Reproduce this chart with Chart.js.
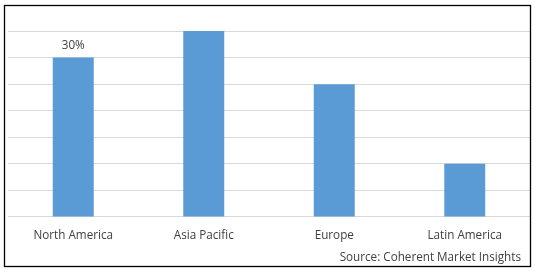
<!DOCTYPE html>
<html>
<head>
<meta charset="utf-8">
<script src="https://cdn.jsdelivr.net/npm/chart.js@4"></script>
<style>
  html, body { margin: 0; padding: 0; background: #fff; }
  #wrap { width: 538px; height: 272px; position: relative; }
</style>
</head>
<body>
<div id="wrap"><canvas id="regionChart"></canvas></div>
<script>
// chart data
var regions = ['North America', 'Asia Pacific', 'Europe', 'Latin America'];
var shares = [30, 35, 25, 10];
var shareLabels = ['30%', '', '', ''];
var sourceText = 'Source: Coherent Market Insights';

var textColor = '#404040';
var fontFamily = '"Open Sans", "DejaVu Sans", sans-serif';
var fontSize = 11.7;

// value labels above the bars + source note + outer frame
var extrasPlugin = {
    id: 'extras',
    afterDatasetsDraw: function (chart) {
        var ctx = chart.ctx;
        var meta = chart.getDatasetMeta(0);
        ctx.save();
        ctx.font = fontSize + 'px ' + fontFamily;
        ctx.fillStyle = textColor;
        ctx.textAlign = 'center';
        ctx.textBaseline = 'middle';
        meta.data.forEach(function (bar, i) {
            if (shareLabels[i]) {
                ctx.fillText(shareLabels[i], bar.x, bar.y - 12);
            }
        });
        ctx.textAlign = 'right';
        ctx.fillText(sourceText, 521, 258);
        ctx.restore();
    },
    afterDraw: function (chart) {
        var ctx = chart.ctx;
        ctx.save();
        ctx.strokeStyle = '#000';
        ctx.lineWidth = 1.3;
        ctx.strokeRect(4.5, 5.5, 526, 261);
        ctx.restore();
    }
};

var ctx = document.getElementById('regionChart');
var regionChart = new Chart(ctx, {
    type: 'bar',
    data: {
        labels: regions,
        datasets: [{
            data: shares,
            backgroundColor: '#5b9bd5',
            categoryPercentage: 1,
            barPercentage: 0.314
        }]
    },
    options: {
        responsive: true,
        maintainAspectRatio: false,
        animation: false,
        layout: {
            padding: { left: 8, right: 8, top: 31, bottom: 25 }
        },
        plugins: {
            legend: { display: false },
            tooltip: { enabled: false }
        },
        scales: {
            x: {
                grid: { display: false },
                border: { color: '#d9d9d9' },
                ticks: {
                    color: textColor,
                    font: { family: fontFamily, size: fontSize },
                    padding: 4,
                    maxRotation: 0
                }
            },
            y: {
                min: 0,
                max: 35,
                ticks: { display: false, stepSize: 5 },
                border: { display: false },
                grid: { color: '#d9d9d9', drawTicks: false }
            }
        }
    },
    plugins: [extrasPlugin]
});
</script>
</body>
</html>
